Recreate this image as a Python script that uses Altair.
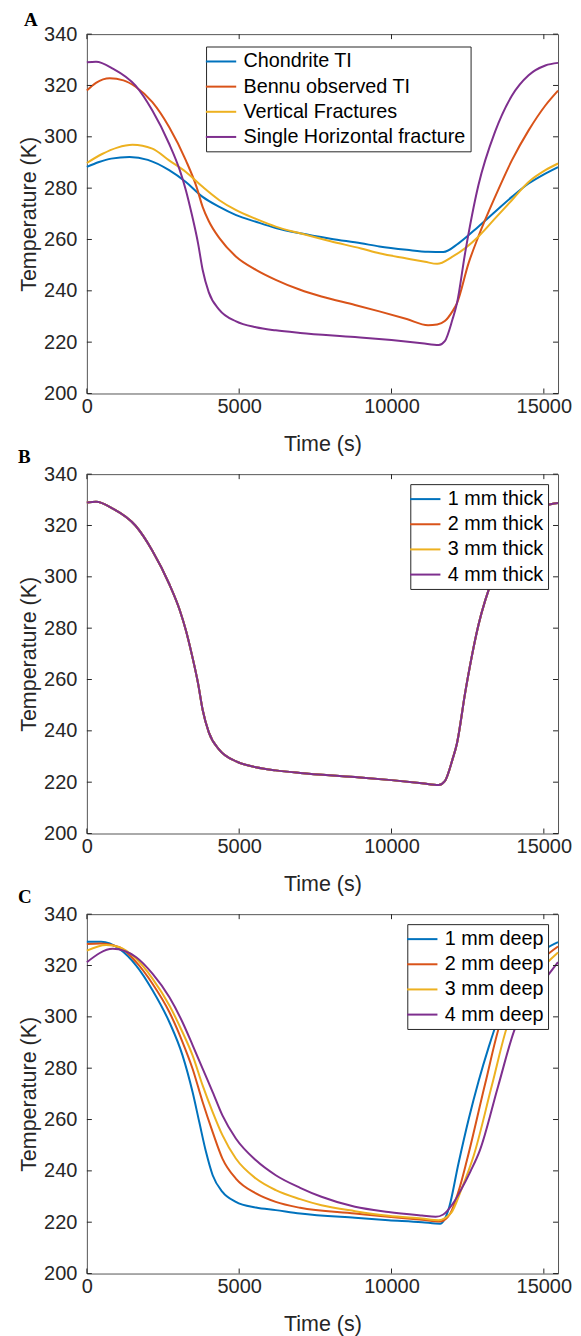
import altair as alt
import pandas as pd

# ---------------- data ----------------
X_MAX = 15466
x_ticks = [0, 5000, 10000, 15000]
y_ticks = [200, 220, 240, 260, 280, 300, 320, 340]
colors = ["#0072BD", "#D95319", "#EDB120", "#7E2F8E"]

# Panel A
a_names = ["Chondrite TI", "Bennu observed TI", "Vertical Fractures", "Single Horizontal fracture"]
a_chondrite_t = [0, 400, 800, 1400, 2000, 2700, 3250, 3800, 4350, 4900, 5550, 6200, 7000, 8000, 9000, 9600, 10500, 11200, 11700, 12200, 12850, 13400, 13950, 14500, 15050, 15466]
a_chondrite_T = [288.3, 290.2, 291.5, 292.1, 291.0, 287.0, 282.4, 276.6, 272.7, 269.5, 266.9, 264.5, 262.4, 260.3, 258.5, 257.3, 256.0, 255.2, 255.1, 258.5, 265.0, 270.8, 276.6, 281.8, 285.7, 288.2]
a_bennu_t = [0, 300, 750, 1200, 1600, 2150, 2700, 3250, 3600, 3800, 4000, 4350, 4900, 5550, 6200, 7000, 7700, 8800, 9600, 10500, 11200, 11500, 11750, 12000, 12150, 12530, 12850, 13400, 13950, 14500, 15050, 15466]
a_bennu_T = [318.0, 321.0, 322.8, 322.0, 319.5, 313.5, 303.8, 290.8, 280.5, 272.7, 267.2, 260.5, 253.3, 248.2, 244.3, 240.4, 237.8, 234.5, 232.0, 229.0, 226.6, 226.9, 228.2, 232.0, 235.2, 250.8, 261.1, 276.6, 290.8, 302.5, 312.2, 318.0]
a_vertical_t = [0, 500, 1000, 1500, 2150, 2700, 3250, 3800, 4350, 4900, 5550, 6200, 7000, 8000, 9000, 9600, 10500, 11100, 11500, 12000, 12850, 13400, 13950, 14500, 15050, 15466]
a_vertical_T = [289.8, 293.3, 295.8, 296.9, 295.4, 290.8, 286.3, 280.5, 275.3, 271.4, 268.0, 265.0, 262.4, 259.3, 256.5, 254.6, 252.6, 251.3, 250.5, 253.3, 261.1, 268.2, 275.3, 282.4, 287.0, 289.6]
a_single_t = [0, 300, 850, 1600, 2150, 2700, 3050, 3250, 3450, 3650, 3800, 4000, 4350, 4900, 5550, 6200, 7000, 8800, 10000, 11000, 11550, 11750, 12000, 12150, 12420, 12850, 13400, 13950, 14500, 15050, 15466]
a_single_T = [329.0, 329.2, 326.6, 319.9, 310.2, 297.3, 287.0, 279.2, 269.5, 258.5, 248.2, 239.5, 232.6, 228.1, 225.8, 224.6, 223.6, 222.0, 220.8, 219.6, 218.9, 220.4, 228.8, 235.2, 255.0, 281.0, 302.0, 316.0, 324.0, 327.8, 328.8]

# Panel B (all four thicknesses give the same curve)
b_names = ["1 mm thick", "2 mm thick", "3 mm thick", "4 mm thick"]
b_t = [0, 300, 850, 1600, 2150, 2700, 3050, 3250, 3450, 3650, 3800, 4000, 4350, 4900, 5550, 6200, 7000, 8800, 10000, 11000, 11550, 11750, 12000, 12150, 12420, 12850, 13400, 13950, 14500, 15050, 15466]
b_T = [329.0, 329.2, 326.6, 319.9, 310.2, 297.3, 287.0, 279.2, 269.5, 258.5, 248.2, 239.5, 232.6, 228.1, 225.8, 224.6, 223.6, 222.0, 220.8, 219.6, 218.9, 220.4, 228.8, 235.2, 255.0, 281.0, 302.0, 316.0, 324.0, 327.8, 328.8]

# Panel C
c_names = ["1 mm deep", "2 mm deep", "3 mm deep", "4 mm deep"]
c_1mm_t = [0, 470, 1070, 1620, 2160, 2710, 3140, 3470, 3690, 3910, 4130, 4450, 4890, 5550, 6200, 7000, 8800, 9900, 11000, 11600, 11880, 12200, 12530, 12860, 13190, 13460, 13800, 14200, 14600, 15000, 15466]
c_1mm_T = [329.3, 329.3, 326.5, 320.0, 310.3, 297.9, 285.0, 270.7, 259.0, 247.4, 238.3, 231.8, 227.9, 225.7, 224.7, 223.4, 221.7, 220.8, 220.0, 219.4, 225.3, 243.0, 260.0, 275.0, 288.2, 297.9, 307.5, 315.5, 321.5, 326.0, 329.1]
c_2mm_t = [0, 430, 1070, 1620, 2160, 2710, 3140, 3470, 3800, 4130, 4450, 4890, 5550, 6200, 7000, 8800, 9900, 11000, 11600, 11930, 12200, 12475, 13076, 13580, 14000, 14500, 15000, 15466]
c_2mm_T = [328.4, 328.6, 327.1, 321.3, 312.8, 301.8, 290.2, 279.8, 266.8, 255.1, 244.8, 237.0, 231.2, 227.9, 225.6, 223.4, 222.1, 221.0, 220.3, 223.4, 232.0, 244.1, 274.0, 297.8, 307.0, 316.0, 323.0, 327.4]
c_3mm_t = [0, 630, 1070, 1620, 2160, 2710, 3140, 3470, 3800, 4130, 4450, 4890, 5550, 6200, 7000, 7700, 8800, 9900, 11000, 11550, 11950, 12300, 12700, 13300, 13830, 14300, 14800, 15466]
c_3mm_T = [325.8, 328.0, 327.1, 322.6, 314.8, 304.4, 294.0, 285.0, 273.3, 262.9, 253.9, 244.8, 237.0, 232.5, 229.0, 226.6, 224.3, 222.5, 221.4, 220.8, 223.5, 233.0, 246.0, 273.5, 297.5, 308.0, 317.0, 325.1]
c_4mm_t = [0, 850, 1620, 2160, 2710, 3140, 3470, 3800, 4130, 4450, 4890, 5550, 6200, 7000, 7700, 8800, 9900, 11000, 11450, 11700, 12000, 12300, 12600, 12900, 13500, 14070, 14500, 15000, 15466]
c_4mm_T = [321.3, 326.5, 323.2, 316.7, 307.6, 297.9, 289.0, 279.8, 270.7, 261.6, 252.6, 244.1, 238.3, 233.4, 229.9, 226.0, 224.0, 222.6, 222.1, 223.0, 227.0, 233.0, 240.0, 248.0, 273.0, 296.0, 305.5, 314.0, 321.3]


def long_frame(names, series):
    rows = []
    for name, (ts, Ts) in zip(names, series):
        for t, T in zip(ts, Ts):
            rows.append({"t": t, "T": T, "series": name})
    return pd.DataFrame(rows)


df_a = long_frame(a_names, [(a_chondrite_t, a_chondrite_T), (a_bennu_t, a_bennu_T),
                            (a_vertical_t, a_vertical_T), (a_single_t, a_single_T)])
df_b = long_frame(b_names, [(b_t, b_T)] * 4)
df_c = long_frame(c_names, [(c_1mm_t, c_1mm_T), (c_2mm_t, c_2mm_T),
                            (c_3mm_t, c_3mm_T), (c_4mm_t, c_4mm_T)])

W, H = 472, 360
FONT = "Liberation Sans"
INK = "#262626"


def legend(orient, **kw):
    return alt.Legend(
        title=None, orient=orient, fillColor="white", strokeColor=INK,
        padding=4.5, labelFont=FONT, labelFontSize=19.8, labelColor="black",
        labelLimit=400, symbolType="M-1.6,0L1.6,0", symbolSize=361,
        symbolStrokeWidth=2, labelOffset=12, rowPadding=4.2, **kw)


def panel(df, names, leg, label, dx, dy):
    xenc = alt.X("t:Q", scale=alt.Scale(domain=[0, X_MAX], nice=False, zero=False),
                 axis=alt.Axis(values=x_ticks, format="d", title="Time (s)",
                               labelPadding=3, titlePadding=17, labelFlush=False))
    yenc = alt.Y("T:Q", scale=alt.Scale(domain=[200, 340], nice=False, zero=False),
                 axis=alt.Axis(values=y_ticks, title="Temperature (K)",
                               labelPadding=10, titlePadding=3, labelFlush=False))
    lines = alt.Chart(df).mark_line(strokeWidth=2, interpolate="monotone").encode(
        x=xenc, y=yenc,
        color=alt.Color("series:N", sort=names,
                        scale=alt.Scale(domain=names, range=colors), legend=leg))
    xt = pd.DataFrame({"t": x_ticks})
    yt = pd.DataFrame({"T": y_ticks})
    tb = alt.Chart(xt).mark_rule(color=INK).encode(x=xenc, y=alt.value(H), y2=alt.value(H - 5))
    tt = alt.Chart(xt).mark_rule(color=INK).encode(x=xenc, y=alt.value(0), y2=alt.value(5))
    tl = alt.Chart(yt).mark_rule(color=INK).encode(y=yenc, x=alt.value(0), x2=alt.value(5))
    tr = alt.Chart(yt).mark_rule(color=INK).encode(y=yenc, x=alt.value(W), x2=alt.value(W - 5))
    return alt.layer(lines, tb, tt, tl, tr).properties(
        width=W, height=H,
        title=alt.TitleParams(text=label, anchor="start", frame="group",
                              font="Liberation Serif", fontSize=19, fontWeight="bold",
                              color="black", dx=dx, dy=dy, offset=0))


pa = panel(df_a, a_names, legend("none", legendX=119.4, legendY=12.4), "A", -63, 5.7)
pb = panel(df_b, b_names, legend("top-right", offset=10), "B", -69, 3)
pc = panel(df_c, c_names, legend("top-right", offset=10), "C", -69, 3)

chart = alt.vconcat(pa, pb, pc, spacing=80.8, bounds="flush").resolve_scale(
    color="independent"
).resolve_legend(color="independent").properties(
    padding={"top": 1, "left": 9, "right": 0, "bottom": 0},
    background="white"
).configure_view(stroke="#555555", strokeWidth=1).configure_axis(
    labelFont=FONT, labelFontSize=20, labelColor=INK,
    titleFont=FONT, titleFontSize=21.5, titleFontWeight="normal", titleColor=INK,
    domain=False, ticks=False, tickSize=0, grid=False
)

chart.save("out.html", embed_options={"renderer": "svg", "actions": False})
